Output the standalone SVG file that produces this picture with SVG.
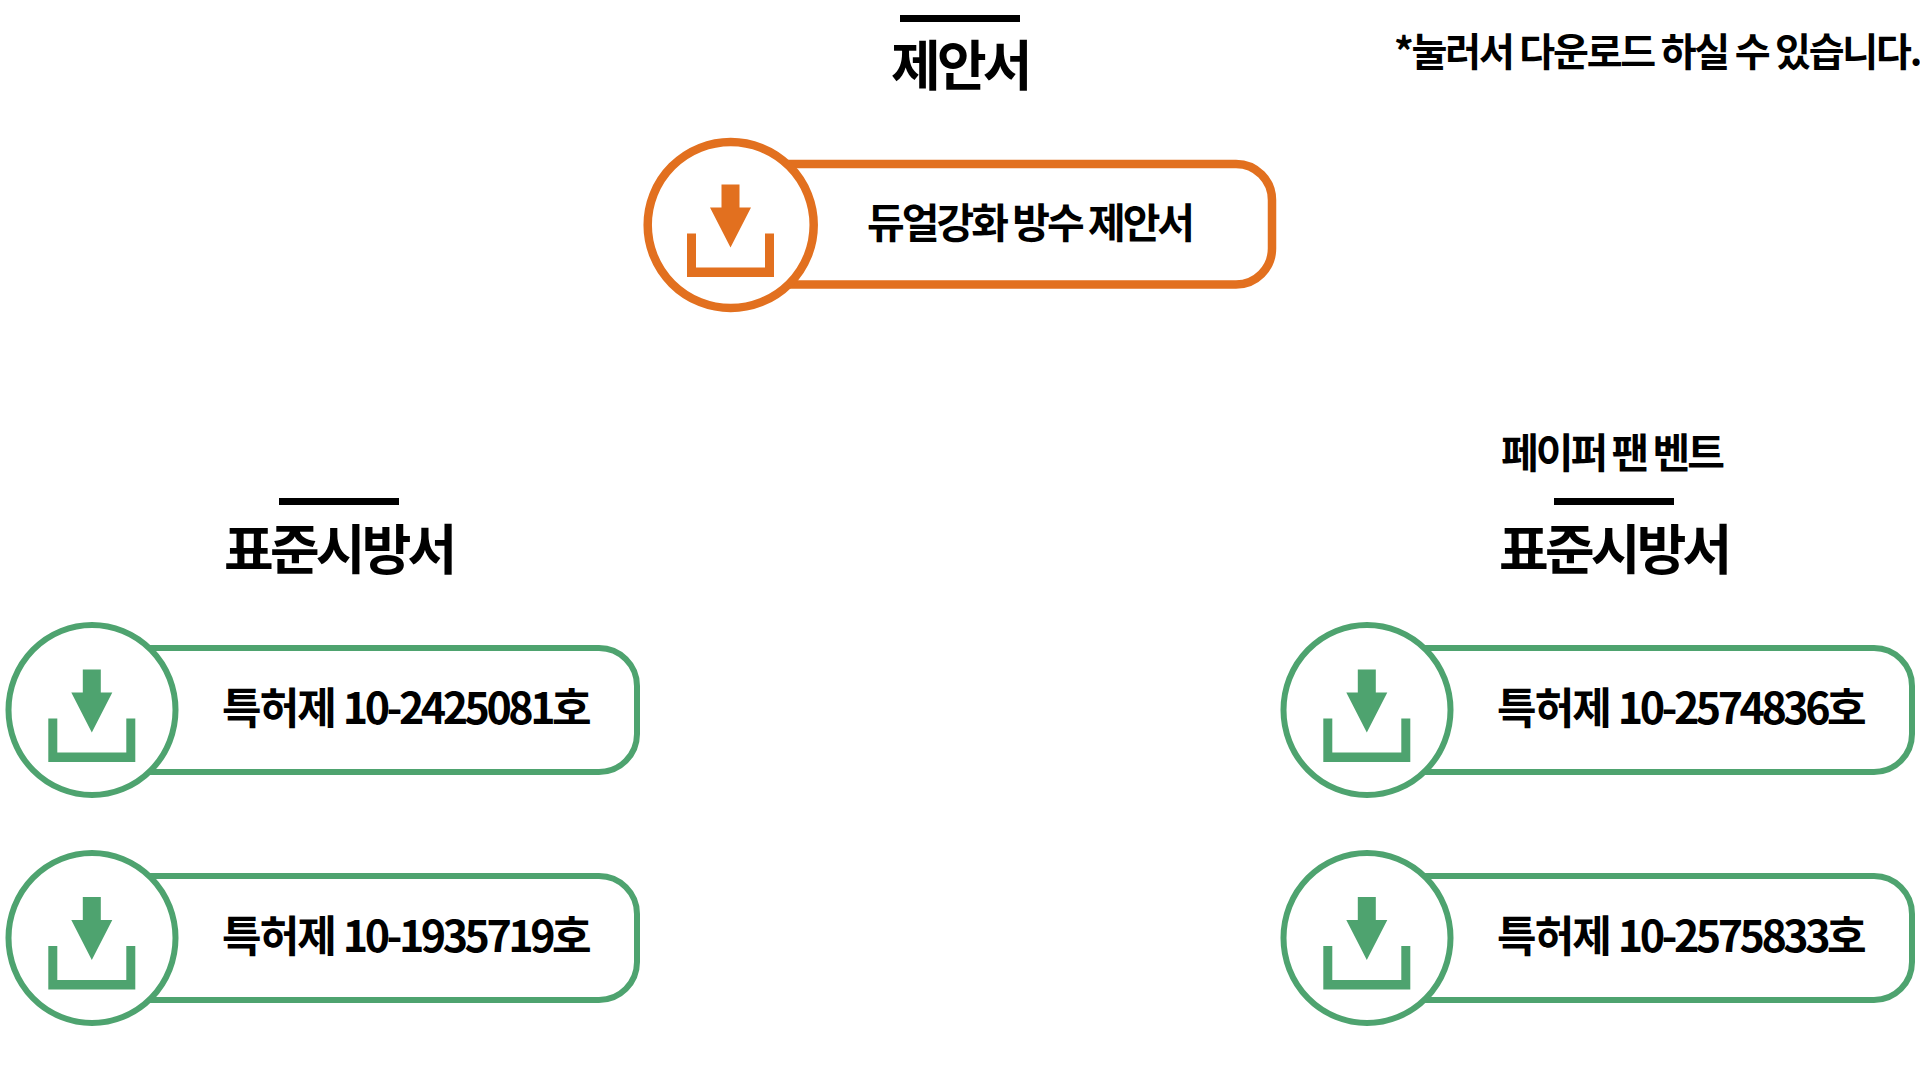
<svg xmlns="http://www.w3.org/2000/svg" width="1920" height="1066" viewBox="0 0 1920 1066">
<style>
text{font-family:"Noto Sans CJK KR","Noto Sans",sans-serif;fill:#000}
.title{font-size:54px;font-weight:700;letter-spacing:-3.8px}
.label{font-size:41px;font-weight:600;letter-spacing:-3px}
.num{font-size:43px;font-weight:600;letter-spacing:-1.9px}
.digits{letter-spacing:-3.5px}
.note{font-size:39px;font-weight:700;letter-spacing:-2.2px}
.sub{font-size:41px;font-weight:600;letter-spacing:-3px}
.bar{fill:#000}
.o .pill,.o .ring{stroke:#e2701f;stroke-width:8.500;fill:#fff}
.g .pill,.g .ring{stroke:#4ea36f;stroke-width:6;fill:#fff}
.o .ico{fill:#e2701f}
.g .ico{fill:#4ea36f}
</style>
<defs>
<path id="icon" d="M-9-40H9V-17H20.500L0 23 -20.500-17H-9ZM-43.500 9H-34.500V43H34.500V9H43.500V52.500H-43.500Z"/>
</defs>
<rect width="1920" height="1066" fill="#fff"/>

<g id="proposal-heading">
<rect class="bar" x="900" y="15" width="120" height="7"/>
<text class="title" x="891" y="86">제안서</text>
</g>
<text id="note" class="note" x="1394" y="66">*눌러서 다운로드 하실 수 있습니다.</text>

<g id="proposal-button" class="o">
<rect class="pill" x="730" y="164" width="542" height="120.500" rx="36"/>
<ellipse class="ring" cx="730.700" cy="225" rx="83" ry="83"/>
<use class="ico" href="#icon" x="730.500" y="224.500"/>
<text class="label" x="867" y="238">듀얼강화 방수 제안서</text>
</g>

<g id="left-heading">
<rect class="bar" x="279" y="498" width="120" height="7"/>
<text class="title" x="224" y="570">표준시방서</text>
</g>
<g id="right-heading">
<text class="sub" x="1501" y="468">페이퍼 팬 벤트</text>
<rect class="bar" x="1554" y="498" width="120" height="7"/>
<text class="title" x="1499" y="570">표준시방서</text>
</g>

<g id="patent-2425081" class="g">
<rect class="pill" x="92" y="648" width="545" height="124" rx="38"/>
<ellipse class="ring" cx="92" cy="710" rx="83.500" ry="85"/>
<use class="ico" href="#icon" x="91.800" y="709.500"/>
<text class="num" x="222" y="724">특허제 <tspan class="digits">10-2425081호</tspan></text>
</g>
<g id="patent-1935719" class="g">
<rect class="pill" x="92" y="876" width="545" height="124" rx="38"/>
<ellipse class="ring" cx="92" cy="938" rx="83.500" ry="85"/>
<use class="ico" href="#icon" x="91.800" y="937"/>
<text class="num" x="222" y="952">특허제 <tspan class="digits">10-1935719호</tspan></text>
</g>
<g id="patent-2574836" class="g">
<rect class="pill" x="1367" y="648" width="545" height="124" rx="38"/>
<ellipse class="ring" cx="1367" cy="710" rx="83.500" ry="85"/>
<use class="ico" href="#icon" x="1366.800" y="709.500"/>
<text class="num" x="1497" y="724">특허제 <tspan class="digits">10-2574836호</tspan></text>
</g>
<g id="patent-2575833" class="g">
<rect class="pill" x="1367" y="876" width="545" height="124" rx="38"/>
<ellipse class="ring" cx="1367" cy="938" rx="83.500" ry="85"/>
<use class="ico" href="#icon" x="1366.800" y="937"/>
<text class="num" x="1497" y="952">특허제 <tspan class="digits">10-2575833호</tspan></text>
</g>
</svg>
